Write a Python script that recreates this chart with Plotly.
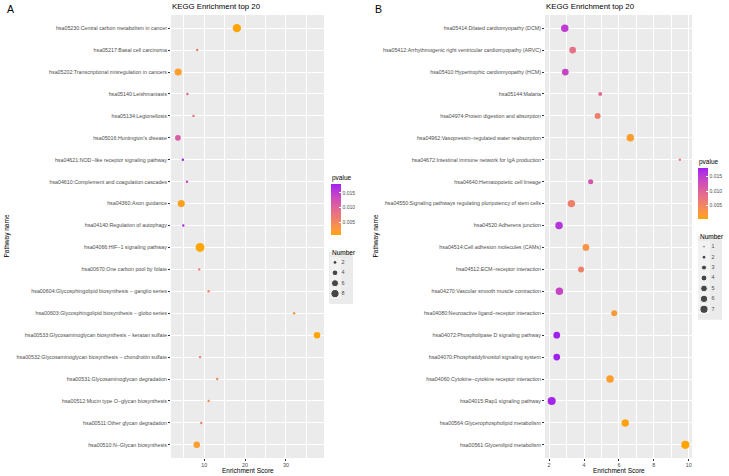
import numpy as np
import plotly.graph_objects as go

W, H = 729, 476

# ---------------- data ----------------
pathways_a = [
    "hsa05230:Central carbon metabolism in cancer",
    "hsa05217:Basal cell carcinoma",
    "hsa05202:Transcriptional misregulation in cancers",
    "hsa05140:Leishmaniasis",
    "hsa05134:Legionellosis",
    "hsa05016:Huntington's disease",
    "hsa04621:NOD\u2212like receptor signaling pathway",
    "hsa04610:Complement and coagulation cascades",
    "hsa04360:Axon guidance",
    "hsa04140:Regulation of autophagy",
    "hsa04066:HIF\u22121 signaling pathway",
    "hsa00670:One carbon pool by folate",
    "hsa00604:Glycosphingolipid biosynthesis \u2212 ganglio series",
    "hsa00603:Glycosphingolipid biosynthesis \u2212 globo series",
    "hsa00533:Glycosaminoglycan biosynthesis \u2212 keratan sulfate",
    "hsa00532:Glycosaminoglycan biosynthesis \u2212 chondroitin sulfate",
    "hsa00531:Glycosaminoglycan degradation",
    "hsa00512:Mucin type O\u2212glycan biosynthesis",
    "hsa00511:Other glycan degradation",
    "hsa00510:N\u2212Glycan biosynthesis",
]
enrich_a = [18.0, 8.3, 3.65, 5.9, 7.4, 3.6, 4.8, 5.8, 4.4, 4.9,
            9.0, 8.8, 11.1, 32.0, 37.6, 9.0, 13.2, 11.1, 9.3, 8.2]
count_a = [8, 1, 6, 1, 1, 4, 1, 1, 6, 1,
           9, 1, 1, 1, 5, 1, 1, 1, 1, 5]
pvalue_a = [0.0010, 0.0070, 0.0020, 0.0100, 0.0080, 0.0110, 0.0180, 0.0140, 0.0015, 0.0170,
            0.0008, 0.0070, 0.0050, 0.0030, 0.0009, 0.0070, 0.0050, 0.0050, 0.0060, 0.0020]

pathways_b = [
    "hsa05414:Dilated cardiomyopathy (DCM)",
    "hsa05412:Arrhythmogenic right ventricular cardiomyopathy (ARVC)",
    "hsa05410:Hypertrophic cardiomyopathy (HCM)",
    "hsa05144:Malaria",
    "hsa04974:Protein digestion and absorption",
    "hsa04962:Vasopressin\u2212regulated water reabsorption",
    "hsa04672:Intestinal immune network for IgA production",
    "hsa04640:Hematopoietic cell lineage",
    "hsa04550:Signaling pathways regulating pluripotency of stem cells",
    "hsa04520:Adherens junction",
    "hsa04514:Cell adhesion molecules (CAMs)",
    "hsa04512:ECM\u2212receptor interaction",
    "hsa04270:Vascular smooth muscle contraction",
    "hsa04080:Neuroactive ligand\u2212receptor interaction",
    "hsa04072:Phospholipase D signaling pathway",
    "hsa04070:Phosphatidylinositol signaling system",
    "hsa04060:Cytokine\u2212cytokine receptor interaction",
    "hsa04015:Rap1 signaling pathway",
    "hsa00564:Glycerophospholipid metabolism",
    "hsa00561:Glycerolipid metabolism",
]
enrich_b = [2.9, 3.35, 2.93, 4.93, 4.78, 6.65, 9.49, 4.38, 3.28, 2.57,
            4.11, 3.83, 2.59, 5.73, 2.44, 2.44, 5.49, 2.15, 6.36, 9.8]
count_b = [6, 5, 5, 2, 4, 6, 1, 3, 6, 6,
           5, 4, 6, 4, 5, 5, 6, 7, 6, 7]
pvalue_b = [0.0150, 0.0080, 0.0140, 0.0090, 0.0060, 0.0015, 0.0070, 0.0120, 0.0060, 0.0160,
            0.0030, 0.0060, 0.0140, 0.0020, 0.0180, 0.0180, 0.0015, 0.0175, 0.0008, 0.0004]

size_breaks_a = [2, 4, 6, 8]
size_breaks_b = [1, 2, 3, 4, 5, 6, 7]
pvalue_ticks = [0.005, 0.010, 0.015]
pvalue_ticktext = ["0.005", "0.010", "0.015"]
x_ticks_a = [10, 20, 30]
x_ticks_b = [2, 4, 6, 8, 10]

# ---------------- helpers ----------------
M = np.array([[0.4124564, 0.3575761, 0.1804375],
              [0.2126729, 0.7151522, 0.0721750],
              [0.0193339, 0.1191920, 0.9503041]])
WHITE = np.array([0.95047, 1.0, 1.08883])


def to_lab(rgb):
    c = np.array(rgb) / 255.0
    c = np.where(c <= 0.04045, c / 12.92, ((c + 0.055) / 1.055) ** 2.4)
    t = (M @ c) / WHITE
    f = np.where(t > (6 / 29) ** 3, np.cbrt(t), t / (3 * (6 / 29) ** 2) + 4 / 29)
    return np.array([116 * f[1] - 16, 500 * (f[0] - f[1]), 200 * (f[1] - f[2])])


def from_lab(lab):
    L, a, b = lab
    fy = (L + 16) / 116
    f = np.array([fy + a / 500, fy, fy - b / 200])
    t = np.where(f > 6 / 29, f ** 3, 3 * (6 / 29) ** 2 * (f - 4 / 29))
    c = np.linalg.inv(M) @ (t * WHITE)
    c = np.clip(c, 0, 1)
    c = np.where(c <= 0.0031308, 12.92 * c, 1.055 * c ** (1 / 2.4) - 0.055)
    r, g, bb = (int(round(v * 255)) for v in np.clip(c, 0, 1))
    return f"rgb({r},{g},{bb})"


low, high = to_lab((255, 165, 0)), to_lab((160, 32, 240))
colorscale = [[s, from_lab(low + (high - low) * s)] for s in np.linspace(0, 1, 21)]


def diam_a(n):
    return float(np.sqrt(6 + 9 * (n - 1)))


def diam_b(n):
    return float(np.sqrt(5.5 + 10 * (n - 1)))


def xr(vals):
    lo, hi = min(vals), max(vals)
    pad = 0.05 * (hi - lo)
    return [lo - pad, hi + pad]


def dx(px):
    return px / W


def dy(px):
    return 1 - px / H


FONT = "Liberation Sans, Arial, Helvetica, sans-serif"
GREY = "#4D4D4D"

fig = go.Figure()

fig.add_trace(go.Scatter(
    x=enrich_a, y=pathways_a, mode="markers", xaxis="x", yaxis="y",
    marker=dict(size=[diam_a(n) for n in count_a], color=pvalue_a,
                coloraxis="coloraxis", opacity=1, line=dict(width=0)),
    showlegend=False, hoverinfo="x+y"))
fig.add_trace(go.Scatter(
    x=enrich_b, y=pathways_b, mode="markers", xaxis="x2", yaxis="y2",
    marker=dict(size=[diam_b(n) for n in count_b], color=pvalue_b,
                coloraxis="coloraxis2", opacity=1, line=dict(width=0)),
    showlegend=False, hoverinfo="x+y"))

# size legends (drawn in small hidden axes)
fig.add_trace(go.Scatter(
    x=[0] * len(size_breaks_a), y=list(range(len(size_breaks_a))), mode="markers",
    xaxis="x3", yaxis="y3", marker=dict(size=[diam_a(n) for n in size_breaks_a], color="black"),
    showlegend=False, hoverinfo="skip"))
fig.add_trace(go.Scatter(
    x=[1.1] * len(size_breaks_a), y=list(range(len(size_breaks_a))), mode="text",
    text=[str(v) for v in size_breaks_a], textposition="middle right",
    textfont=dict(size=5.4, color=GREY, family=FONT),
    xaxis="x3", yaxis="y3", showlegend=False, hoverinfo="skip"))
fig.add_trace(go.Scatter(
    x=[0] * len(size_breaks_b), y=list(range(len(size_breaks_b))), mode="markers",
    xaxis="x4", yaxis="y4", marker=dict(size=[diam_b(n) for n in size_breaks_b], color="black"),
    showlegend=False, hoverinfo="skip"))
fig.add_trace(go.Scatter(
    x=[1.25] * len(size_breaks_b), y=list(range(len(size_breaks_b))), mode="text",
    text=[str(v) for v in size_breaks_b], textposition="middle right",
    textfont=dict(size=5.4, color=GREY, family=FONT),
    xaxis="x4", yaxis="y4", showlegend=False, hoverinfo="skip"))

TOP, BOT = 15, 458


def xaxis_cfg(dom, rng, ticks, minor_dtick, anchor):
    return dict(domain=dom, range=rng, tickvals=ticks, ticks="outside", ticklen=2,
                tickwidth=0.7, tickcolor="#333333", showgrid=True, gridcolor="white",
                gridwidth=1, zeroline=False, showline=False, anchor=anchor,
                tickfont=dict(size=5.4, color=GREY, family=FONT), automargin=False,
                minor=dict(dtick=minor_dtick, tick0=0, showgrid=True, gridcolor="white",
                           gridwidth=0.5, ticks=""))


def yaxis_cfg(cats, anchor):
    return dict(domain=[dy(BOT), dy(TOP)], type="category", categoryorder="array",
                categoryarray=cats, range=[len(cats) - 0.4, -0.6], ticks="outside",
                ticklen=2, tickwidth=0.7, tickcolor="#333333", showgrid=True,
                gridcolor="white", gridwidth=1, zeroline=False, showline=False,
                anchor=anchor, tickfont=dict(size=5.3, color=GREY, family=FONT),
                automargin=False)


hidden = dict(visible=False, showgrid=False, zeroline=False, fixedrange=True)

cb_common = dict(lenmode="pixels", len=51, thicknessmode="pixels", thickness=10,
                 outlinewidth=0, xpad=0, ypad=0, tickvals=pvalue_ticks,
                 ticktext=pvalue_ticktext, ticks="inside", ticklen=2, tickcolor="white",
                 tickwidth=0.7, tickfont=dict(size=5, color=GREY, family=FONT),
                 xanchor="left", yanchor="top")

fig.update_layout(
    width=W, height=H, margin=dict(l=0, r=0, t=0, b=0),
    paper_bgcolor="white", plot_bgcolor="#EBEBEB",
    font=dict(family=FONT, color="black"),
    xaxis=xaxis_cfg([dx(171), dx(324)], xr(enrich_a), x_ticks_a, 5, "y"),
    yaxis=yaxis_cfg(pathways_a, "x"),
    xaxis2=xaxis_cfg([dx(545), dx(692)], xr(enrich_b), x_ticks_b, 1, "y2"),
    yaxis2=yaxis_cfg(pathways_b, "x2"),
    xaxis3=dict(domain=[dx(329), dx(353)], range=[-1, 3], anchor="y3", **hidden),
    yaxis3=dict(domain=[dy(304), dy(252)], range=[4, -1], anchor="x3", **hidden),
    xaxis4=dict(domain=[dx(698), dx(722)], range=[-1, 3], anchor="y4", **hidden),
    yaxis4=dict(domain=[dy(236.3 + 8 * 10.43), dy(236.3)], range=[7, -1], anchor="x4", **hidden),
    coloraxis=dict(colorscale=colorscale, cmin=min(pvalue_a), cmax=max(pvalue_a),
                   colorbar=dict(x=dx(331), y=dy(184), **cb_common)),
    coloraxis2=dict(colorscale=colorscale, cmin=min(pvalue_b), cmax=max(pvalue_b),
                    colorbar=dict(x=dx(698), y=dy(168), **cb_common)),
    shapes=[
        dict(type="rect", xref="paper", yref="paper", x0=dx(330), x1=dx(341),
             y0=dy(299), y1=dy(257), fillcolor="#F2F2F2", line=dict(width=0), layer="below"),
        dict(type="rect", xref="paper", yref="paper", x0=dx(698), x1=dx(710),
             y0=dy(314), y1=dy(241), fillcolor="#F2F2F2", line=dict(width=0), layer="below"),
    ],
)


def ann(text, x, y, size, xanchor="left", yanchor="middle", angle=0, color="black"):
    fig.add_annotation(text=text, x=dx(x), y=dy(y), xref="paper", yref="paper",
                       showarrow=False, xanchor=xanchor, yanchor=yanchor, textangle=angle,
                       font=dict(size=size, color=color, family=FONT))


ann("A", 5, 9, 10.5)
ann("B", 373, 9, 10.5)
ann("KEGG Enrichment top 20", 170, 7, 7.8)
ann("KEGG Enrichment top 20", 544, 7, 7.8)
ann("Enrichment Score", (171 + 324) / 2, 470.5, 6.5, xanchor="center")
ann("Enrichment Score", (545 + 692) / 2, 470.5, 6.5, xanchor="center")
ann("Pathway name", 6, (TOP + BOT) / 2, 6.5, xanchor="center", angle=-90)
ann("Pathway name", 375, (TOP + BOT) / 2, 6.5, xanchor="center", angle=-90)
ann("pvalue", 330, 177.5, 6.5)
ann("pvalue", 697, 162, 6.5)
ann("Number", 330, 252, 6.5)
ann("Number", 698, 236.7, 6.5)

fig.write_html("out.html", config={"displayModeBar": False},
               post_script="document.body.style.margin='0px';document.body.style.overflow='hidden';")
